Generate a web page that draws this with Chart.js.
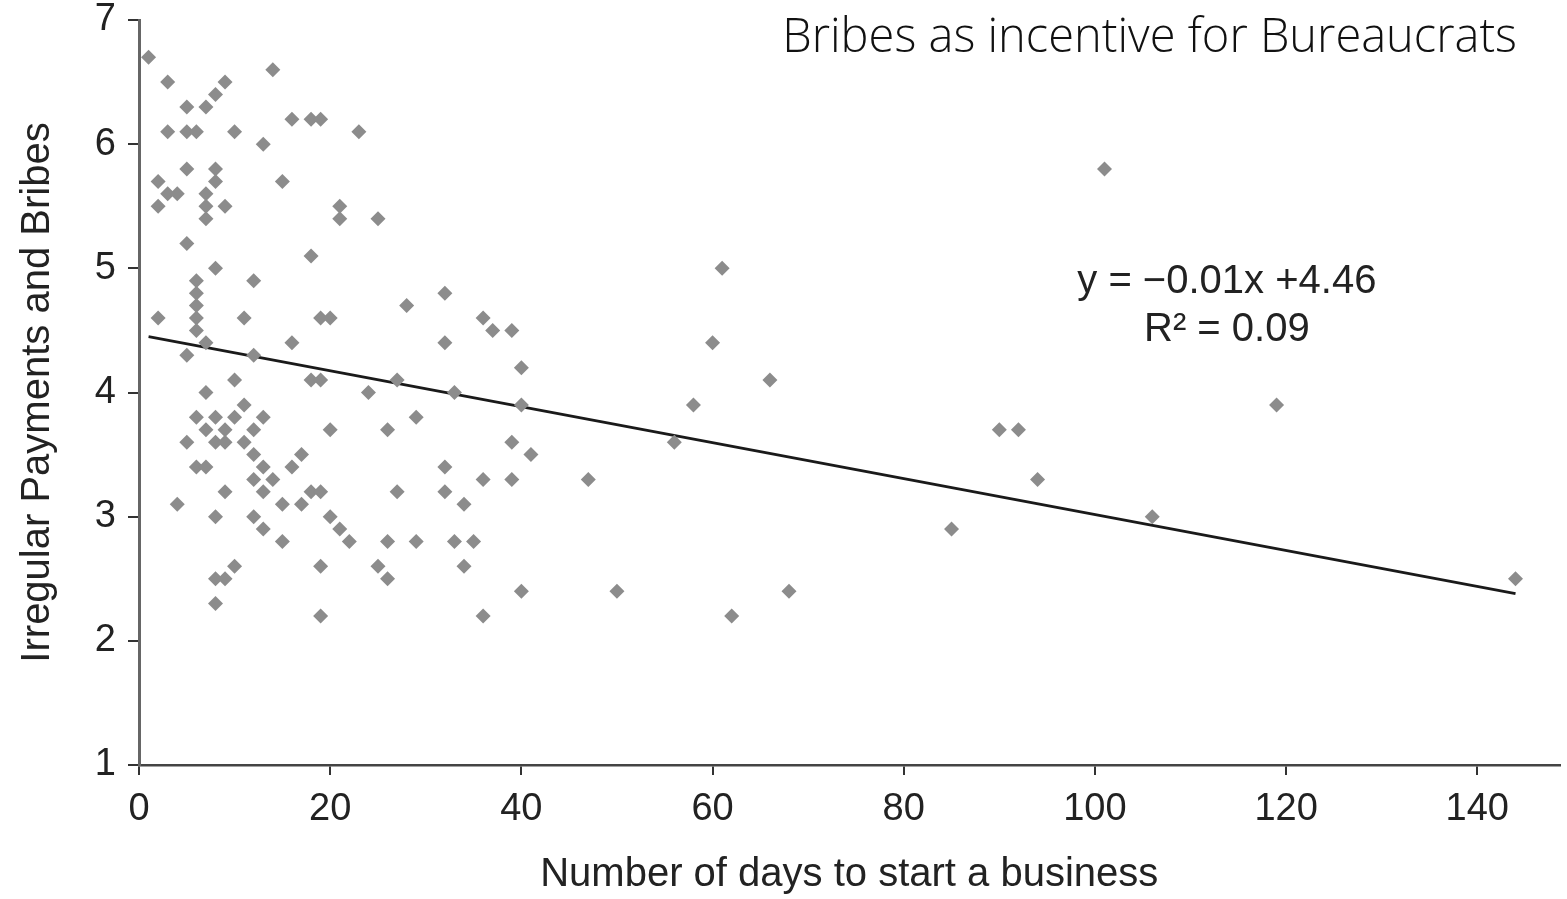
<!DOCTYPE html>
<html>
<head>
<meta charset="utf-8">
<script src="https://cdn.jsdelivr.net/npm/chart.js@4.4.1/dist/chart.umd.min.js"></script>
<style>
  body { margin: 0; background: #fff; }
  #wrap { position: relative; width: 1567px; height: 899px; }
  #title {
    position: absolute; right: 50px; top: 2px;
    font-family: "Open Sans", sans-serif; font-weight: 300;
    font-size: 47px; color: #111; white-space: nowrap;
  }
</style>
</head>
<body>
<div id="wrap">
  <canvas id="bribeChart" width="1567" height="899"></canvas>
  <div id="title">Bribes as incentive for Bureaucrats</div>
</div>
<script>
// days to start a business (x) and bribe score (y)
const days = [
    1, 2, 2, 2, 3, 3, 3, 4, 4,
    5, 5, 5, 5, 5, 5,
    6, 6, 6, 6, 6, 6, 6, 6,
    7, 7, 7, 7, 7, 7, 7, 7,
    8, 8, 8, 8, 8, 8, 8, 8, 8,
    9, 9, 9, 9, 9, 9,
    10, 10, 10, 10,
    11, 11, 11,
    12, 12, 12, 12, 12, 12,
    13, 13, 13, 13, 13,
    14, 14, 15, 15, 15, 16, 16, 16, 17, 17,
    18, 18, 18, 18,
    19, 19, 19, 19, 19, 19,
    20, 20, 20, 21, 21, 21, 22, 23, 24, 25, 25,
    26, 26, 26, 27, 27, 28, 29, 29,
    32, 32, 32, 32, 33, 33, 34, 34, 35,
    36, 36, 36, 37, 39, 39, 39, 40, 40, 40, 41,
    47, 50, 56, 58, 60, 61, 62, 66, 68,
    85, 90, 92, 94, 101, 106, 119, 144
];
const bribes = [
    6.7, 5.7, 5.5, 4.6, 6.5, 6.1, 5.6, 5.6, 3.1,
    6.3, 6.1, 5.8, 5.2, 4.3, 3.6,
    6.1, 4.9, 4.8, 4.7, 4.6, 4.5, 3.8, 3.4,
    6.3, 5.6, 5.5, 5.4, 4.4, 4.0, 3.7, 3.4,
    6.4, 5.8, 5.7, 5.0, 3.8, 3.6, 3.0, 2.5, 2.3,
    6.5, 5.5, 3.7, 3.6, 3.2, 2.5,
    6.1, 4.1, 3.8, 2.6,
    4.6, 3.9, 3.6,
    4.9, 4.3, 3.7, 3.5, 3.3, 3.0,
    6.0, 3.8, 3.4, 3.2, 2.9,
    6.6, 3.3, 5.7, 3.1, 2.8, 6.2, 4.4, 3.4, 3.5, 3.1,
    6.2, 5.1, 4.1, 3.2,
    6.2, 4.6, 4.1, 3.2, 2.6, 2.2,
    4.6, 3.7, 3.0, 5.5, 5.4, 2.9, 2.8, 6.1, 4.0, 5.4, 2.6,
    3.7, 2.8, 2.5, 4.1, 3.2, 4.7, 3.8, 2.8,
    4.8, 4.4, 3.4, 3.2, 4.0, 2.8, 3.1, 2.6, 2.8,
    4.6, 3.3, 2.2, 4.5, 4.5, 3.6, 3.3, 4.2, 3.9, 2.4, 3.5,
    3.3, 2.4, 3.6, 3.9, 4.4, 5.0, 2.2, 4.1, 2.4,
    2.9, 3.7, 3.7, 3.3, 5.8, 3.0, 3.9, 2.5
];

// fitted line as drawn (end points)
const trendX = [1, 144];
const trendY = [4.45, 2.38];

const xTicks = [0, 20, 40, 60, 80, 100, 120, 140];
const equationText = ['y = \u22120.01x +4.46', 'R\u00b2 = 0.09'];
const equationAt = { x: 113.8, y: [4.89, 4.5] };

const axisFont = { family: 'Liberation Sans, Arial, sans-serif', size: 38 };
const titleFont = { family: 'Liberation Sans, Arial, sans-serif', size: 40 };

const equationLabel = {
    id: 'equationLabel',
    afterDatasetsDraw(chart) {
        const { ctx, scales } = chart;
        ctx.save();
        ctx.fillStyle = '#222';
        ctx.font = '40px "Liberation Sans", Arial, sans-serif';
        ctx.textAlign = 'center';
        ctx.textBaseline = 'middle';
        equationText.forEach((t, i) => {
            ctx.fillText(t, scales.x.getPixelForValue(equationAt.x), scales.y.getPixelForValue(equationAt.y[i]));
        });
        ctx.restore();
    }
};

const ctx = document.getElementById('bribeChart').getContext('2d');
new Chart(ctx, {
    type: 'scatter',
    data: {
        datasets: [
            {
                label: 'Countries',
                data: days.map((d, i) => ({ x: d, y: bribes[i] })),
                pointStyle: 'rectRot',
                pointRadius: 7.5,
                pointBackgroundColor: '#8c8c8c',
                pointBorderWidth: 0
            },
            {
                label: 'Trend',
                type: 'line',
                data: trendX.map((d, i) => ({ x: d, y: trendY[i] })),
                borderColor: '#1a1a1a',
                borderWidth: 2.8,
                pointRadius: 0,
                fill: false
            }
        ]
    },
    options: {
        responsive: false,
        animation: false,
        devicePixelRatio: 1,
        layout: { padding: { top: 20, right: 0, left: 0, bottom: 0 } },
        plugins: {
            legend: { display: false },
            tooltip: { enabled: false }
        },
        scales: {
            x: {
                type: 'linear',
                min: 0,
                max: 148.6,
                afterBuildTicks: (s) => { s.ticks = xTicks.map(v => ({ value: v })); },
                afterFit: (s) => { s.height = 134; s.paddingLeft = 0; s.paddingRight = 0; },
                ticks: { color: '#222', font: axisFont, padding: 12 },
                grid: { drawOnChartArea: false, color: '#333', lineWidth: 2, tickLength: 10 },
                border: { color: '#444', width: 2.5 },
                title: { display: true, text: 'Number of days to start a business', color: '#222', font: titleFont, padding: { top: 0, bottom: 0 } }
            },
            y: {
                min: 1,
                max: 7,
                ticks: { stepSize: 1, color: '#222', font: axisFont, padding: 12 },
                afterFit: (s) => { s.width = 139; s.paddingTop = 0; s.paddingBottom = 0; },
                grid: { drawOnChartArea: false, color: '#333', lineWidth: 2, tickLength: 11 },
                border: { color: '#666', width: 3 },
                title: { display: true, text: 'Irregular Payments and Bribes', color: '#222', font: titleFont, padding: { top: 14, bottom: 0 } }
            }
        }
    },
    plugins: [equationLabel]
});
</script>
</body>
</html>
